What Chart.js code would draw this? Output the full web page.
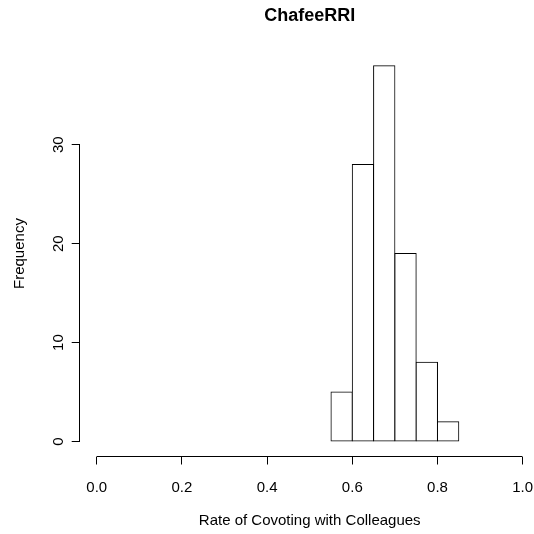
<!DOCTYPE html>
<html>
<head>
<meta charset="utf-8">
<title>ChafeeRRI</title>
<script src="https://cdn.jsdelivr.net/npm/chart.js@4.4.1/dist/chart.umd.min.js"></script>
<style>
	html, body { margin: 0; padding: 0; background: #fff; overflow: hidden; }
	#wrap { width: 560px; height: 534px; }
</style>
</head>
<body>
<div id="wrap"><canvas id="myChartHist" width="560" height="534"></canvas></div>
<script>
// histogram bins (left / right edges) and counts
var binStart = [0.55, 0.60, 0.65, 0.70, 0.75, 0.80];
var binEnd   = [0.60, 0.65, 0.70, 0.75, 0.80, 0.85];
var counts   = [5, 28, 38, 19, 8, 2];

var xTicks = [0.0, 0.2, 0.4, 0.6, 0.8, 1.0];
var yTicks = [0, 10, 20, 30];

var myChartHist = null;

// R style detached axes: line only from first to last tick
var axisPlugin = {
	id: 'rAxes',
	afterDraw: function (chart) {
		var ctx = chart.ctx;
		var xs = chart.scales.x;
		var ys = chart.scales.y;
		var al = function (p) { return Math.round(p - 0.5) + 0.5; };

		ctx.save();
		ctx.strokeStyle = '#000';
		ctx.lineWidth = 1;
		ctx.beginPath();
		ctx.moveTo(al(xs.getPixelForValue(xTicks[0])), al(xs.top));
		ctx.lineTo(al(xs.getPixelForValue(xTicks[xTicks.length - 1])), al(xs.top));
		ctx.moveTo(al(ys.right), al(ys.getPixelForValue(yTicks[0])));
		ctx.lineTo(al(ys.right), al(ys.getPixelForValue(yTicks[yTicks.length - 1])));
		ctx.stroke();

		// rotated y tick labels
		ctx.fillStyle = '#000';
		ctx.font = '15px "Liberation Sans", Arial, sans-serif';
		ctx.textAlign = 'center';
		ctx.textBaseline = 'alphabetic';
		for (var i = 0; i < ys.ticks.length; i++) {
			var py = ys.getPixelForValue(ys.ticks[i].value);
			ctx.save();
			ctx.translate(ys.right - 16.5, py);
			ctx.rotate(-Math.PI / 2);
			ctx.fillText(String(ys.ticks[i].value), 0, 0);
			ctx.restore();
		}
		ctx.restore();
	}
};

var hist = {
	startUp: function () {
		hist.chartHist();
	},

	chartHist: function () {
		var points = [];
		for (var i = 0; i < counts.length; i++) {
			points.push({ x: (binStart[i] + binEnd[i]) / 2, y: counts[i] });
		}

		myChartHist = new Chart('myChartHist', {
			type: 'bar',
			data: {
				datasets: [{
					data: points,
					backgroundColor: '#fff',
					borderColor: '#000',
					borderWidth: 1,
					borderSkipped: false,
					inflateAmount: 0.5,
					barPercentage: 1,
					categoryPercentage: 1
				}]
			},
			options: {
				responsive: false,
				animation: false,
				layout: { padding: { left: 0, right: 20.3, top: 0, bottom: 0 } },
				plugins: {
					legend: { display: false },
					tooltip: { enabled: false },
					title: {
						display: true,
						text: 'ChafeeRRI',
						fullSize: false,
						color: '#000',
						font: { family: '"Liberation Sans", Arial, sans-serif', size: 18, weight: 'bold', lineHeight: 1.2 },
						padding: { top: 5.3, bottom: 23.7 }
					}
				},
				scales: {
					x: {
						type: 'linear',
						min: -0.04,
						max: 1.04,
						offset: false,
						afterBuildTicks: function (scale) {
							scale.ticks = xTicks.map(function (v) { return { value: v }; });
						},
						afterFit: function (scale) { scale.height = 77.5; },
						grid: { offset: false, drawOnChartArea: false, drawTicks: true, tickLength: 8, color: '#000', lineWidth: 1 },
						border: { display: false },
						ticks: {
							color: '#000',
							padding: 14,
							maxRotation: 0,
							font: { family: '"Liberation Sans", Arial, sans-serif', size: 15 },
							callback: function (v) { return Number(v).toFixed(1); }
						},
						title: {
							display: true,
							text: 'Rate of Covoting with Colleagues',
							color: '#000',
							font: { family: '"Liberation Sans", Arial, sans-serif', size: 15, lineHeight: 1.2 },
							padding: { top: 0, bottom: 4.5 }
						}
					},
					y: {
						min: -1.52,
						max: 39.52,
						afterBuildTicks: function (scale) {
							scale.ticks = yTicks.map(function (v) { return { value: v }; });
						},
						afterFit: function (scale) { scale.width = 79.7; },
						grid: { drawOnChartArea: false, drawTicks: true, tickLength: 8, color: '#000', lineWidth: 1 },
						border: { display: false },
						ticks: {
							color: 'rgba(0,0,0,0)',
							font: { family: '"Liberation Sans", Arial, sans-serif', size: 15 }
						},
						title: {
							display: true,
							text: 'Frequency',
							color: '#000',
							font: { family: '"Liberation Sans", Arial, sans-serif', size: 15, lineHeight: 1.2 },
							padding: { top: 10.5, bottom: 0 }
						}
					}
				}
			},
			plugins: [axisPlugin]
		});
	} // end - chartHist
};

hist.startUp();
</script>
</body>
</html>
